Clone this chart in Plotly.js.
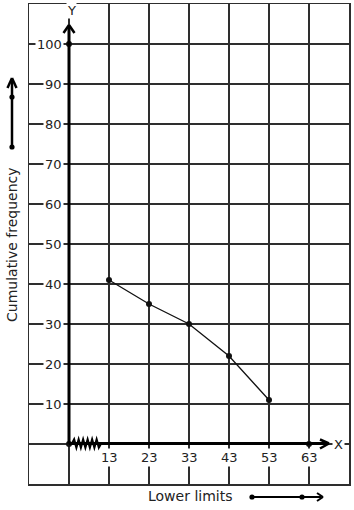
<!DOCTYPE html>
<html>
<head>
<meta charset="utf-8">
<script src="https://cdn.plot.ly/plotly-3.0.1.min.js"></script>
<style>html,body{margin:0;padding:0;background:#fff;}#chart{width:354px;height:510px;}</style>
</head>
<body>
<div id="chart"></div>
<script>
// ---- data ----
const lowerLimits = [13, 23, 33, 43, 53];
const cumulativeFrequency = [41, 35, 30, 22, 11];
const endPointX = [63];
const endPointY = [0];
const xTickLabels = [13, 23, 33, 43, 53, 63];
const yTickLabels = [10, 20, 30, 40, 50, 60, 70, 80, 90, 100];

// ---- layout helpers ----
const W = 354, H = 510;
const M = {l: 29, r: 5, t: 4, b: 26};
const PW = W - M.l - M.r, PH = H - M.t - M.b;
const px = x => (x - M.l) / PW;
const py = y => (H - M.b - y) / PH;
const font = {family: 'DejaVu Sans', size: 13, color: '#222'};
const titleFont = {family: 'DejaVu Sans', size: 14, color: '#222'};
const gridC = '#2e2e2e';
const originX = 3;

const traces = [
  {x: lowerLimits, y: cumulativeFrequency, mode: 'lines+markers', type: 'scatter',
   line: {color: '#111', width: 1.3}, marker: {color: '#111', size: 6}, cliponaxis: false, hoverinfo: 'skip'},
  {x: endPointX.concat([originX, originX]), y: endPointY.concat([0, 100]), mode: 'markers', type: 'scatter',
   marker: {color: '#111', size: 6}, cliponaxis: false, hoverinfo: 'skip'}
];

const annotations = [];
xTickLabels.forEach(v => annotations.push({x: v, y: 0, xref: 'x', yref: 'y', xanchor: 'center', yanchor: 'middle', yshift: -13, text: String(v),
  showarrow: false, bgcolor: '#fff', borderpad: 1, font: font}));
yTickLabels.forEach(v => annotations.push({x: originX, y: v, xref: 'x', yref: 'y', xanchor: 'right', yanchor: 'middle', xshift: -5,
  text: String(v), showarrow: false, bgcolor: '#fff', borderpad: 1, font: font}));
function ptext(x, y, text, extra) {
  return Object.assign({x: px(x), y: py(y), xref: 'paper', yref: 'paper', xanchor: 'center', yanchor: 'middle',
    text: text, showarrow: false, font: font}, extra || {});
}
annotations.push(ptext(71, 11, 'Y', {bgcolor: '#fff', borderpad: 0}));
annotations.push(ptext(338, 444, 'X', {bgcolor: '#fff', borderpad: 1}));
annotations.push(ptext(12, 245, 'Cumulative frequency', {textangle: -90, font: titleFont}));
annotations.push(ptext(189.5, 496, 'Lower limits', {font: titleFont}));

function pline(x0, y0, x1, y1, w) {
  return {type: 'line', xref: 'paper', yref: 'paper', x0: px(x0), y0: py(y0), x1: px(x1), y1: py(y1), line: {color: '#000', width: w}};
}
function dot(x, y) {
  const r = 2.6;
  return {type: 'circle', xref: 'paper', yref: 'paper', x0: px(x - r), x1: px(x + r), y0: py(y + r), y1: py(y - r),
    fillcolor: '#000', line: {color: '#000', width: 0}};
}
// zigzag on x axis
let zz = 'M ' + px(72) + ' ' + py(443.5);
const zx0 = 73, zx1 = 100, n = 6;
for (let i = 0; i < n; i++) {
  const a = zx0 + (zx1 - zx0) * (i + 0.25) / n, b = zx0 + (zx1 - zx0) * (i + 0.75) / n;
  zz += ' L ' + px(a) + ' ' + py(439.5) + ' L ' + px(b) + ' ' + py(447.5);
}
zz += ' L ' + px(101) + ' ' + py(443.5);

const shapes = [
  pline(69, 443.5, 69, 26, 3),
  pline(69, 443.5, 327, 443.5, 3),
  pline(63.5, 33, 69, 25, 2.5), pline(74.5, 33, 69, 25, 2.5),
  pline(320, 439.5, 329, 443.5, 2.5), pline(320, 448.5, 329, 443.5, 2.5),
  {type: 'path', xref: 'paper', yref: 'paper', path: zz, line: {color: '#000', width: 2.2}},
  pline(12, 147, 12, 79, 2.5), pline(7.5, 88, 12, 78, 2.5), pline(16.5, 88, 12, 78, 2.5),
  dot(12, 147), dot(12, 97),
  pline(252, 497, 321, 497, 2), pline(317, 493, 323, 497, 2), pline(317, 501, 323, 497, 2),
  dot(252, 497), dot(302, 497)
];

const layout = {
  width: W, height: H, margin: M, showlegend: false,
  paper_bgcolor: '#fff', plot_bgcolor: '#fff',
  xaxis: {range: [-7, 73], tick0: -7, dtick: 10, showgrid: true, gridcolor: gridC, gridwidth: 1.5,
    showticklabels: false, ticks: '', zeroline: false, showline: true, mirror: true, linecolor: gridC, linewidth: 1.5, fixedrange: true},
  yaxis: {range: [-10, 110], tick0: 0, dtick: 10, showgrid: true, gridcolor: gridC, gridwidth: 1.5,
    showticklabels: false, ticks: '', zeroline: false, showline: true, mirror: true, linecolor: gridC, linewidth: 1.5, fixedrange: true},
  annotations: annotations, shapes: shapes, font: font
};
Plotly.newPlot('chart', traces, layout, {staticPlot: true, displayModeBar: false});
</script>
</body>
</html>
